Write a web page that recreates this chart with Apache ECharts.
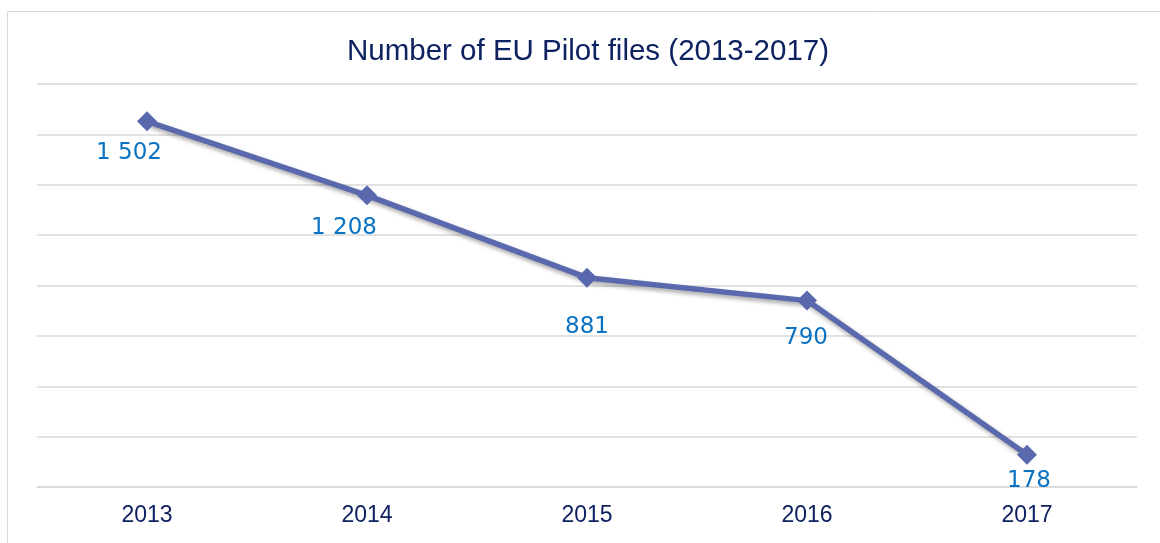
<!DOCTYPE html>
<html>
<head>
<meta charset="utf-8">
<script src="https://cdn.jsdelivr.net/npm/echarts@6/dist/echarts.min.js"></script>
<style>html,body{margin:0;padding:0;background:#fff}#c{width:1160px;height:543px}</style>
</head>
<body>
<div id="c"></div>
<script>
var categories = ['2013', '2014', '2015', '2016', '2017'];
var pilotFiles = [1502, 1208, 881, 790, 178];
var labelOffsets = [[-18, 32], [-23, 33], [0, 49], [-1, 37], [2, 26]];

function fmt(v) {
  return String(v).replace(/\B(?=(\d{3})+(?!\d))/g, ' ');
}

var chart = echarts.init(document.getElementById('c'));
chart.setOption({
  animation: false,
  backgroundColor: '#fff',
  graphic: [{
    type: 'rect',
    shape: { x: 7.5, y: 11.5, width: 1200, height: 600 },
    style: { fill: 'none', stroke: '#d9d9d9', lineWidth: 1 },
    silent: true
  }],
  title: {
    text: 'Number of EU Pilot files (2013-2017)',
    left: 583, top: 32, textAlign: 'center',
    textStyle: { fontFamily: 'Liberation Sans, Arial', fontSize: 29.5, fontWeight: 'normal', color: '#0e2160' }
  },
  grid: { left: 37, right: 23, top: 84, bottom: 56 },
  xAxis: {
    type: 'category',
    data: categories,
    boundaryGap: true,
    axisLine: { show: true, lineStyle: { color: '#d9d9d9', width: 1.5 } },
    axisTick: { show: false },
    axisLabel: { margin: 17, fontFamily: 'Liberation Sans, Arial', fontSize: 23, color: '#0e2160' }
  },
  yAxis: {
    type: 'value',
    min: 50, max: 1650, interval: 200,
    axisLine: { show: false },
    axisTick: { show: false },
    axisLabel: { show: false },
    splitLine: { lineStyle: { color: '#d9d9d9', width: 1.5 } }
  },
  series: [{
    type: 'line',
    data: pilotFiles.map(function (v, i) {
      return { value: v, label: { offset: labelOffsets[i] } };
    }),
    symbol: 'diamond',
    symbolSize: 20,
    itemStyle: { color: '#5a69ae' },
    lineStyle: { color: '#5a69ae', width: 5.5, shadowColor: 'rgba(0,0,0,0.35)', shadowBlur: 4, shadowOffsetX: 2, shadowOffsetY: 3 },
    label: {
      show: true, position: 'inside',
      fontFamily: 'DejaVu Sans, Verdana', fontSize: 23, color: '#0a72c2',
      formatter: function (p) { return fmt(p.value); }
    }
  }]
});
</script>
</body>
</html>
